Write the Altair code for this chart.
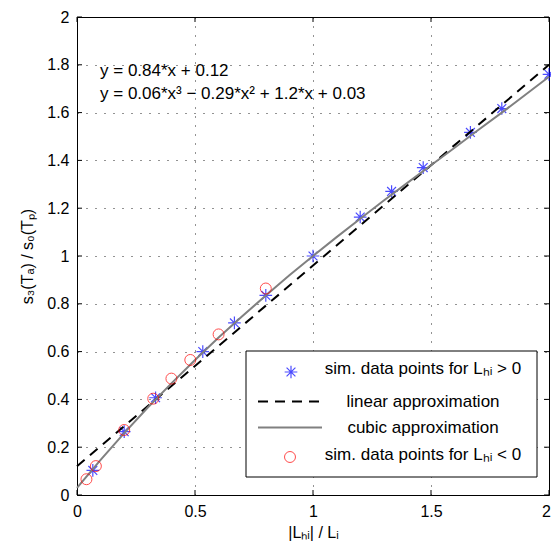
import altair as alt
import pandas as pd

# ---- data ----
pos_x = [0.067, 0.2, 0.333, 0.533, 0.667, 0.8, 1.0, 1.2, 1.333, 1.467, 1.667, 1.8, 2.0]
pos_y = [0.103, 0.265, 0.407, 0.600, 0.720, 0.835, 1.000, 1.163, 1.270, 1.370, 1.517, 1.617, 1.760]

neg_x = [0.040, 0.080, 0.200, 0.323, 0.400, 0.480, 0.600, 0.800]
neg_y = [0.066, 0.121, 0.272, 0.403, 0.487, 0.565, 0.672, 0.864]

lin_x = [0.0, 2.0]
lin_y = [0.12, 1.80]

cub_x = [0.0, 0.1, 0.2, 0.3, 0.4, 0.5, 0.6, 0.7, 0.8, 0.9, 1.0,
         1.1, 1.2, 1.3, 1.4, 1.5, 1.6, 1.7, 1.8, 1.9, 2.0]
cub_y = [0.030, 0.147, 0.259, 0.366, 0.467, 0.565, 0.659, 0.748, 0.835, 0.919, 1.000,
         1.079, 1.156, 1.232, 1.306, 1.380, 1.453, 1.527, 1.600, 1.675, 1.750]

x_ticks = [0, 0.5, 1, 1.5, 2]
y_ticks = [0, 0.2, 0.4, 0.6, 0.8, 1.0, 1.2, 1.4, 1.6, 1.8, 2.0]

eq_text = ["y = 0.84*x + 0.12", "y = 0.06*x³ − 0.29*x² + 1.2*x + 0.03"]
eq_x = [0.0975, 0.0975]
eq_y = [1.774, 1.677]

legend_labels = ["sim. data points for Lₕᵢ > 0", "linear approximation",
                 "cubic approximation", "sim. data points for Lₕᵢ < 0"]

W, H = 472, 478
FONT = "Liberation Sans"
FS = 16
FT = 17
STAR = "M0,-1L0,1M-1,0L1,0M-0.7,-0.7L0.7,0.7M-0.7,0.7L0.7,-0.7"

pos_df = pd.DataFrame({"x": pos_x, "y": pos_y})
neg_df = pd.DataFrame({"x": neg_x, "y": neg_y})
lin_df = pd.DataFrame({"x": lin_x, "y": lin_y})
cub_df = pd.DataFrame({"x": cub_x, "y": cub_y})
eq_df = pd.DataFrame({"x": eq_x, "y": eq_y, "t": eq_text})
xt_df = pd.DataFrame({"v": x_ticks})
yt_df = pd.DataFrame({"v": y_ticks})
one = pd.DataFrame({"a": [0]})

xscale = alt.Scale(domain=[0, 2], nice=False, zero=False)
yscale = alt.Scale(domain=[0, 2], nice=False, zero=False)

xaxis = alt.Axis(values=x_ticks, format="~g", tickSize=0, domain=False, grid=True,
                 gridDash=[1, 8], gridColor="#000000", gridOpacity=0.85,
                 labelFontSize=FS, labelPadding=8, labelColor="black", labelFlush=False,
                 labelOffset={"condition": {"test": "datum.value == 2", "value": -3}, "value": 0},
                 title="|Lₕᵢ| / Lᵢ", titleFontSize=FS, titleFontWeight="normal",
                 titleColor="black", titleY=37, titleBaseline="middle")
yaxis = alt.Axis(values=y_ticks, format="~g", tickSize=0, domain=False, grid=True,
                 gridDash=[1, 8], gridColor="#000000", gridOpacity=0.85,
                 labelFontSize=FS, labelPadding=8, labelColor="black", labelFlush=False,
                 title="s₃(Tₐ) / s₀(Tₚ)", titleFontSize=FS, titleFontWeight="normal",
                 titleColor="black", titleX=-50, titleY=H / 2, titleBaseline="middle")

stars = alt.Chart(pos_df).mark_point(shape=STAR, filled=False, color="#0000ff",
                                     size=160, strokeWidth=1.2).encode(
    x=alt.X("x:Q", scale=xscale, axis=xaxis),
    y=alt.Y("y:Q", scale=yscale, axis=yaxis),
)
linear = alt.Chart(lin_df).mark_line(color="black", strokeDash=[10, 7], strokeWidth=2).encode(
    x="x:Q", y="y:Q")
cubic = alt.Chart(cub_df).mark_line(color="#808080", strokeWidth=2).encode(
    x="x:Q", y="y:Q")
circles = alt.Chart(neg_df).mark_point(shape="circle", filled=False, color="#ff0000",
                                       size=120, strokeWidth=1).encode(
    x="x:Q", y="y:Q")

eqs = alt.Chart(eq_df).mark_text(align="left", baseline="middle", font=FONT,
                                 fontSize=FT, color="black").encode(
    x="x:Q", y="y:Q", text="t:N")

ticks_b = alt.Chart(xt_df).mark_rule(color="black").encode(
    x="v:Q", y=alt.value(H), y2=alt.value(H - 5))
ticks_t = alt.Chart(xt_df).mark_rule(color="black").encode(
    x="v:Q", y=alt.value(0), y2=alt.value(5))
ticks_l = alt.Chart(yt_df).mark_rule(color="black").encode(
    y="v:Q", x=alt.value(0), x2=alt.value(5))
ticks_r = alt.Chart(yt_df).mark_rule(color="black").encode(
    y="v:Q", x=alt.value(W), x2=alt.value(W - 5))

# ---- legend box ----
leg_box = alt.Chart(one).mark_rect(fill="white", stroke="black", strokeWidth=1).encode(
    x=alt.value(169), x2=alt.value(460), y=alt.value(334), y2=alt.value(460))
leg_star = alt.Chart(one).mark_point(shape=STAR, filled=False, color="#0000ff",
                                     size=160, strokeWidth=1.2).encode(
    x=alt.value(214), y=alt.value(355))
leg_dash = alt.Chart(one).mark_rule(color="black", strokeDash=[10, 7], strokeWidth=2).encode(
    x=alt.value(181), x2=alt.value(245), y=alt.value(384.5))
leg_cub = alt.Chart(one).mark_rule(color="#808080", strokeWidth=2).encode(
    x=alt.value(181), x2=alt.value(245), y=alt.value(410.5))
leg_circ = alt.Chart(one).mark_point(shape="circle", filled=False, color="#ff0000",
                                     size=120, strokeWidth=1).encode(
    x=alt.value(213), y=alt.value(440))

leg_text_y = [352, 385, 411, 438]
leg_texts = [
    alt.Chart(one).mark_text(align="center", baseline="middle", font=FONT, fontSize=FT,
                             color="black", text=lab).encode(
        x=alt.value(346), y=alt.value(yy))
    for lab, yy in zip(legend_labels, leg_text_y)
]

chart = alt.layer(
    stars, linear, cubic, circles, eqs,
    ticks_b, ticks_t, ticks_l, ticks_r,
    leg_box, leg_star, leg_dash, leg_cub, leg_circ, *leg_texts,
).properties(
    width=W, height=H,
    padding={"left": 69, "top": 9, "right": 2, "bottom": 50},
    autosize=alt.AutoSizeParams(type="none"),
).configure(font=FONT).configure_view(stroke="black", strokeWidth=1)

chart.save("out.html", embed_options={"renderer": "svg", "actions": False})
